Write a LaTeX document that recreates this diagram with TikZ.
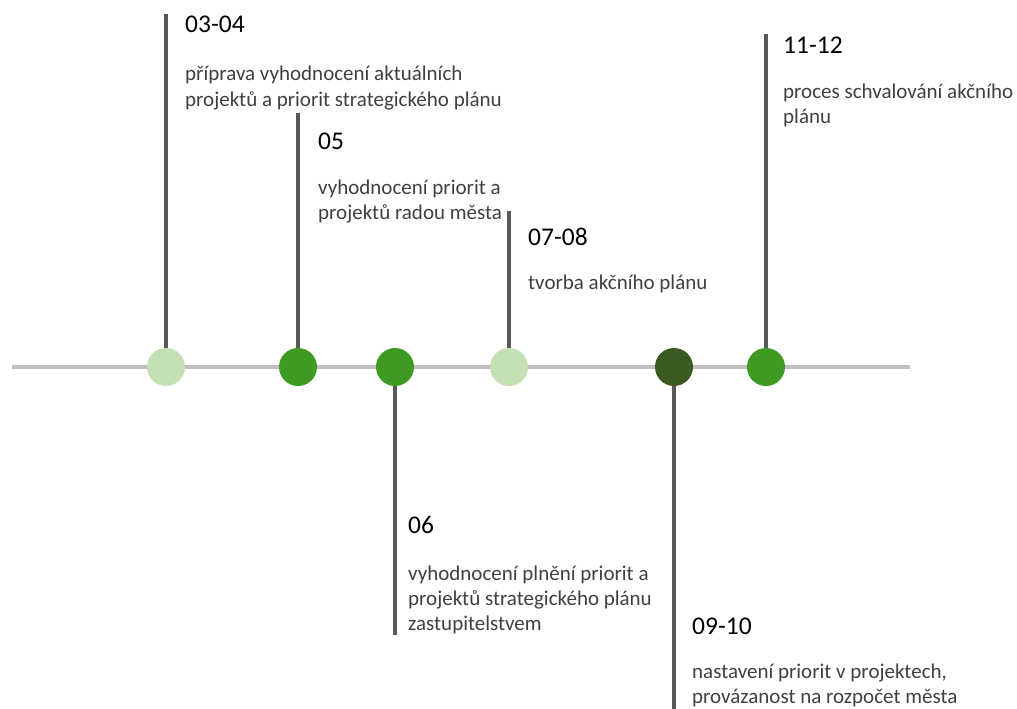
\documentclass[tikz,border=0pt]{standalone}
\usepackage{fontspec}
\setmainfont{Carlito}
\definecolor{axisgray}{HTML}{BFBFBF}
\definecolor{stemgray}{HTML}{595959}
\definecolor{palegreen}{HTML}{C5E0B4}
\definecolor{midgreen}{HTML}{3F9A24}
\definecolor{darkgreen}{HTML}{3A5A22}
\definecolor{bodygray}{HTML}{404040}
\tikzset{
  dot/.style={circle, fill=#1, draw=none, minimum size=38pt, inner sep=0pt},
  stem/.style={draw=stemgray, line width=4pt},
  axis/.style={draw=axisgray, line width=4pt},
  title/.style={anchor=base west, inner sep=0pt, font=\fontsize{25.5}{30}\selectfont, text=black},
  body/.style={anchor=base west, inner sep=0pt, align=left, font=\fontsize{21}{25}\selectfont, text=bodygray},
}
\begin{document}
\begin{tikzpicture}[x=1pt,y=-1pt]
\useasboundingbox (0,0) rectangle (1017,709);
\coordinate (L) at (12,367);
\coordinate (R) at (910,367);
\draw[axis] (L) -- (R);
\node[dot=palegreen] (c1) at (166,367) {};
\node[dot=midgreen] (c2) at (298,367) {};
\node[dot=midgreen] (c3) at (395,367) {};
\node[dot=palegreen] (c4) at (509,367) {};
\node[dot=darkgreen] (c5) at (674,367) {};
\node[dot=midgreen] (c6) at (766,367) {};
\coordinate (e1) at (166,14);
\coordinate (e2) at (298,113);
\coordinate (e3) at (395,635);
\coordinate (e4) at (509,211);
\coordinate (e5) at (674,709);
\coordinate (e6) at (766,34);
\draw[stem] (e1) -- (c1.north);
\draw[stem] (e2) -- (c2.north);
\draw[stem] (c3.south) -- (e3);
\draw[stem] (e4) -- (c4.north);
\draw[stem] (c5.south) -- (e5);
\draw[stem] (e6) -- (c6.north);
% body nodes: base anchor sits on the last line's baseline
\node[title] (t1) at (185,33) {03-04};
\node[body] (b1) at (185,106) {příprava vyhodnocení aktuálních\\projektů a priorit strategického plánu};
\node[title] (t2) at (318,149) {05};
\node[body] (b2) at (318,219) {vyhodnocení priorit a\\projektů radou města};
\node[title] (t3) at (408,533) {06};
\node[body] (b3) at (408,630) {vyhodnocení plnění priorit a\\projektů strategického plánu\\zastupitelstvem};
\node[title] (t4) at (528,245) {07-08};
\node[body] (b4) at (528,289) {tvorba akčního plánu};
\node[title] (t5) at (692,634) {09-10};
\node[body] (b5) at (692,703) {nastavení priorit v projektech,\\provázanost na rozpočet města};
\node[title] (t6) at (783,53) {11-12};
\node[body] (b6) at (783,123) {proces schvalování akčního\\plánu};
\end{tikzpicture}
\end{document}
